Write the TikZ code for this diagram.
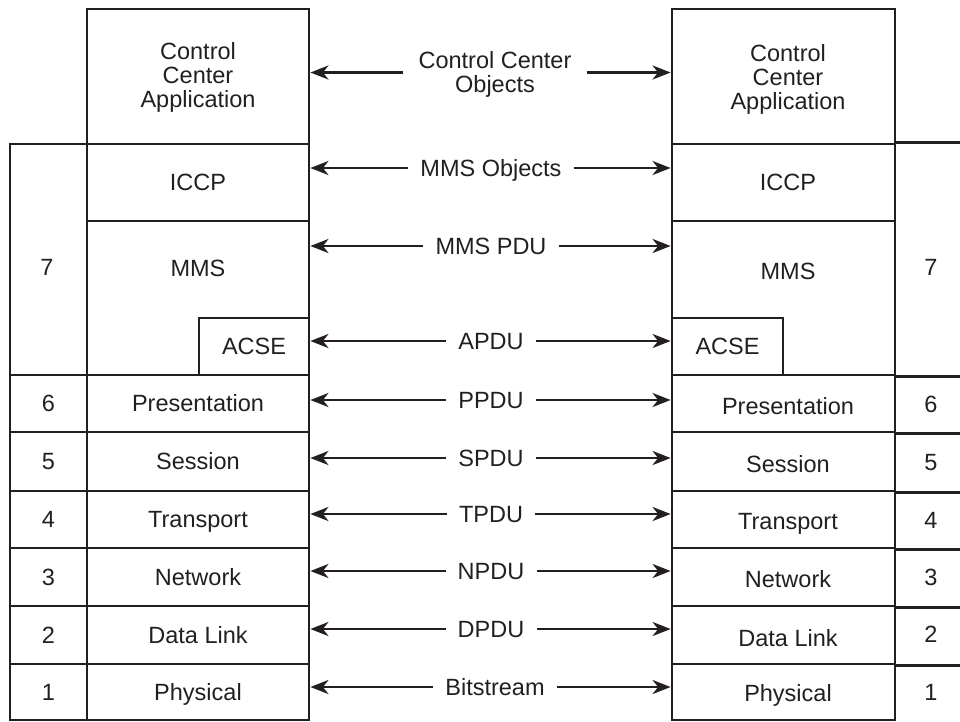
\documentclass[tikz,border=0pt]{standalone}
\usepackage{fontspec}
\setmainfont{Liberation Sans}
\usetikzlibrary{arrows.meta}
\definecolor{ink}{RGB}{35,31,32}
\begin{document}
\begin{tikzpicture}[x=1pt,y=-1pt,
  every node/.style={font=\fontsize{23.5pt}{24pt}\selectfont, text=ink},
  layer/.style={draw=ink, line width=2.8pt, inner sep=0pt,
                text height=16.8pt, text depth=0pt},
  tag/.style={inner sep=0pt, text height=16.8pt, text depth=0pt},
  threeline/.style={inner sep=0pt, align=center, text height=64.8pt, text depth=0pt},
  pdu/.style={inner xsep=12pt, inner ysep=0pt, text height=16.8pt, text depth=0pt},
  link/.style={draw=ink, line width=2.8pt, -{Stealth[length=18pt,width=14pt,inset=5.5pt]}},
  rule/.style={draw=ink, line width=2.8pt},
]
\useasboundingbox (0,0) rectangle (960,721);

% ---------------- left stack ----------------
\node[layer, minimum width=222pt, minimum height=135pt] (ltop) at (198,76.5) {};
\node[threeline] (ltopt) at (198,75.5) {Control\\Center\\Application};
\node[layer, minimum width=222pt, minimum height=77pt] (liccp) at (198,182.5) {ICCP};
\node[layer, minimum width=222pt, minimum height=154pt] (lmms) at (198,298) {};
\node[tag] (lmmst) at (198,268) {MMS};
\node[layer, minimum width=110pt, minimum height=57pt] (lacse) at (254,346.5) {ACSE};
\node[layer, minimum width=222pt, minimum height=57pt] (lpres) at (198,403.5) {Presentation};
\node[layer, minimum width=222pt, minimum height=59pt] (lsess) at (198,461.5) {Session};
\node[layer, minimum width=222pt, minimum height=57pt] (ltrans) at (198,519.5) {Transport};
\node[layer, minimum width=222pt, minimum height=58pt] (lnet) at (198,577) {Network};
\node[layer, minimum width=222pt, minimum height=58pt] (llink) at (198,635) {Data Link};
\node[layer, minimum width=222pt, minimum height=56pt] (lphys) at (198,692) {Physical};

% layer numbers, left
\node[layer, minimum width=77pt, minimum height=231pt] (ln7) at (48.5,259.5) {};
\node[tag] (ln7t) at (47,267) {7};
\node[layer, minimum width=77pt, minimum height=57pt] (ln6) at (48.5,403.5) {6};
\node[layer, minimum width=77pt, minimum height=59pt] (ln5) at (48.5,461.5) {5};
\node[layer, minimum width=77pt, minimum height=57pt] (ln4) at (48.5,519.5) {4};
\node[layer, minimum width=77pt, minimum height=58pt] (ln3) at (48.5,577) {3};
\node[layer, minimum width=77pt, minimum height=58pt] (ln2) at (48.5,635) {2};
\node[layer, minimum width=77pt, minimum height=56pt] (ln1) at (48.5,692) {1};

% ---------------- right stack ----------------
\node[layer, minimum width=223pt, minimum height=135pt] (rtop) at (783.5,76.5) {};
\node[threeline] (rtopt) at (788,77) {Control\\Center\\Application};
\node[layer, minimum width=223pt, minimum height=77pt] (riccp) at (783.5,182.5) {};
\node[tag] (riccpt) at (788,182.5) {ICCP};
\node[layer, minimum width=223pt, minimum height=154pt] (rmms) at (783.5,298) {};
\node[tag] (rmmst) at (788,271) {MMS};
\node[layer, minimum width=111pt, minimum height=57pt] (racse) at (727.5,346.5) {ACSE};
\node[layer, minimum width=223pt, minimum height=57pt] (rpres) at (783.5,403.5) {};
\node[tag] (rprest) at (788,406.5) {Presentation};
\node[layer, minimum width=223pt, minimum height=59pt] (rsess) at (783.5,461.5) {};
\node[tag] (rsesst) at (788,464) {Session};
\node[layer, minimum width=223pt, minimum height=57pt] (rtrans) at (783.5,519.5) {};
\node[tag] (rtranst) at (788,521) {Transport};
\node[layer, minimum width=223pt, minimum height=58pt] (rnet) at (783.5,577) {};
\node[tag] (rnett) at (788,579) {Network};
\node[layer, minimum width=223pt, minimum height=58pt] (rlink) at (783.5,635) {};
\node[tag] (rlinkt) at (788,638) {Data Link};
\node[layer, minimum width=223pt, minimum height=56pt] (rphys) at (783.5,692) {};
\node[tag] (rphyst) at (788,693) {Physical};

% layer numbers, right (open column running off the edge)
\draw[rule] (riccp.north east) -- ++(70,0);
\foreach \c in {rmms,rpres,rsess,rtrans,rnet,rlink}
  \draw[rule] (\c.south east) -- ++(70,0);
\node[tag] (rn7) at (931,267) {7};
\node[tag] (rn6) at (931,404) {6};
\node[tag] (rn5) at (931,462) {5};
\node[tag] (rn4) at (931,520) {4};
\node[tag] (rn3) at (931,577) {3};
\node[tag] (rn2) at (931,634) {2};
\node[tag] (rn1) at (931,692) {1};

% ---------------- peer exchanges ----------------
\node[inner xsep=15pt, inner ysep=0pt, align=center, text height=40.8pt, text depth=0pt]
  (cco) at (495,72.5) {Control Center\\Objects};
\node[pdu] (mmso) at (491,168) {MMS Objects};
\node[pdu] (mmsp) at (491,246) {MMS PDU};
\node[pdu] (apdu) at (491,341) {APDU};
\node[pdu] (ppdu) at (491,400) {PPDU};
\node[pdu] (spdu) at (491,458) {SPDU};
\node[pdu] (tpdu) at (491,514) {TPDU};
\node[pdu] (npdu) at (491,571) {NPDU};
\node[pdu] (dpdu) at (491,629) {DPDU};
\node[pdu] (bits) at (495,687) {Bitstream};

\foreach \m/\l/\r in {cco/ltop/rtop, mmso/liccp/riccp, mmsp/lmms/rmms,
    apdu/lacse/racse, ppdu/lpres/rpres, spdu/lsess/rsess, tpdu/ltrans/rtrans,
    npdu/lnet/rnet, dpdu/llink/rlink, bits/lphys/rphys}{
  \draw[link] (\m.west) -- (\m.west -| \l.east);
  \draw[link] (\m.east) -- (\m.east -| \r.west);
}
\end{tikzpicture}
\end{document}
